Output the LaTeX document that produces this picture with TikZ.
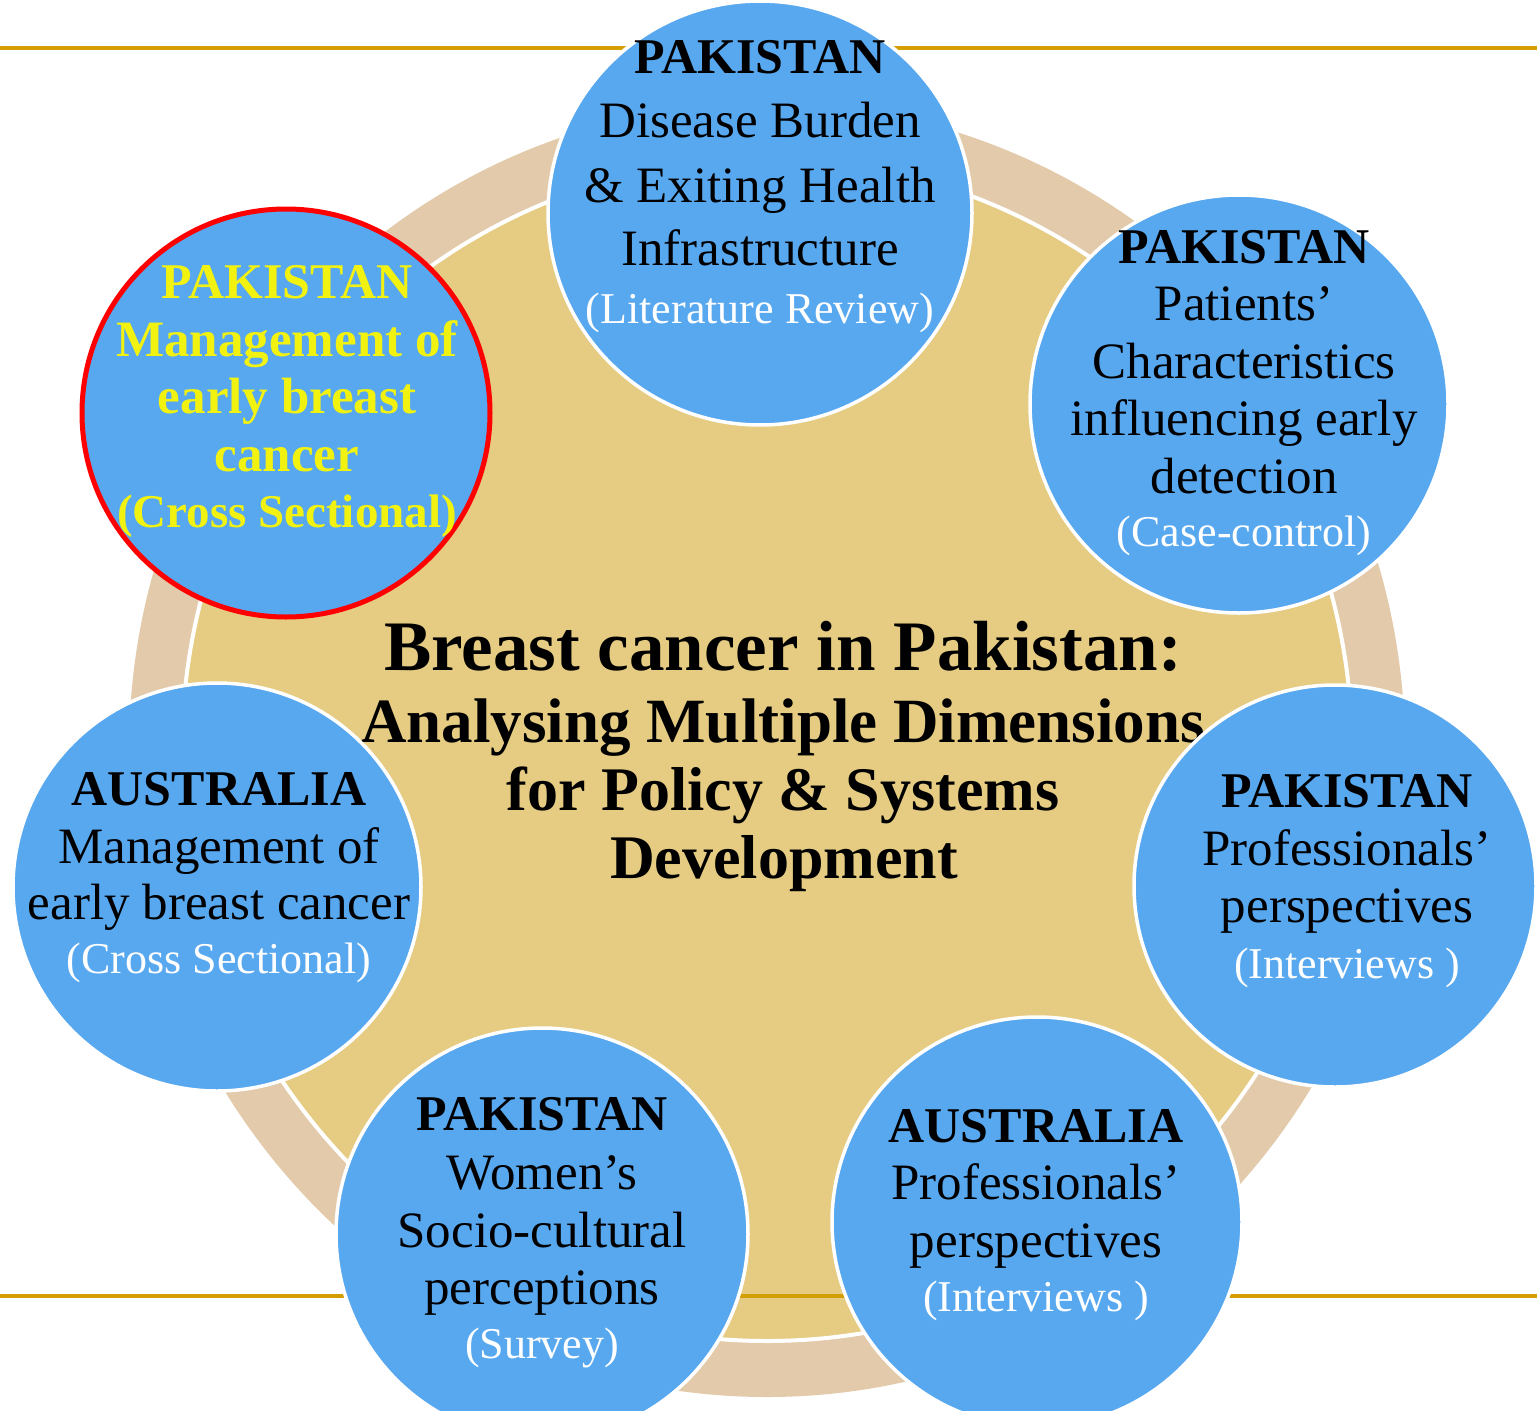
\documentclass[tikz,border=0pt]{standalone}
\usepackage{fontspec}
\setmainfont{Liberation Serif}

\definecolor{ringtan}{RGB}{226,202,171}
\definecolor{diskgold}{RGB}{229,204,130}
\definecolor{bubbleblue}{RGB}{88,168,240}
\definecolor{rulegold}{RGB}{210,158,0}
\definecolor{hiyellow}{RGB}{242,242,16}

\tikzset{
  bubble/.style={circle, fill=bubbleblue, draw=white, line width=3.5pt, inner sep=0pt},
  focus/.style={bubble, draw=red, line width=5pt},
  txtline/.style={anchor=base, inner sep=0pt, outer sep=0pt},
  head/.style={txtline, font=\fontsize{50}{60}\selectfont\bfseries},
  body/.style={txtline, font=\fontsize{51}{60}\selectfont},
  note/.style={txtline, text=white, font=\fontsize{44}{52}\selectfont},
  hihead/.style={txtline, text=hiyellow, font=\fontsize{50}{60}\selectfont\bfseries},
  hibody/.style={txtline, text=hiyellow, font=\fontsize{51}{60}\selectfont\bfseries},
  hinote/.style={txtline, text=hiyellow, font=\fontsize{47}{56}\selectfont\bfseries},
  titleA/.style={txtline, font=\fontsize{71}{80}\selectfont\bfseries},
  titleB/.style={txtline, font=\fontsize{62}{70}\selectfont\bfseries},
  rule/.style={draw=rulegold, line width=4pt}
}

\begin{document}
\begin{tikzpicture}[x=1pt, y=-1pt]
  \useasboundingbox (0,0) rectangle (1537,1411);
  \clip (0,0) rectangle (1537,1411);

  % outer ring and central disk
  \fill[ringtan] (767,750) ellipse [x radius=638pt, y radius=647pt];
  \filldraw[fill=diskgold, draw=white, line width=4pt] (767,750) ellipse [x radius=585pt, y radius=591pt];

  % horizontal rules
  \coordinate (rt1) at (0,47.5);   \coordinate (rt2) at (1537,47.5);
  \coordinate (rb1) at (0,1296);   \coordinate (rb2) at (1537,1296);
  \draw[rule] (rt1) -- (rt2);
  \draw[rule] (rb1) -- (rb2);

  % central title
  \node[titleA] (t1) at (783,670) {Breast cancer in Pakistan:};
  \node[titleB, font=\fontsize{63}{70}\selectfont\bfseries] (t2) at (783,742) {Analysing Multiple Dimensions};
  \node[titleB] (t3) at (783,810) {for Policy \& Systems};
  \node[titleB] (t4) at (784,878) {Development};

  % surrounding bubbles
  \node[bubble, minimum size=424pt] (c1) at (760,213) {};
  \node[bubble, minimum size=418pt] (c2) at (1239,404) {};
  \node[bubble, minimum size=402pt] (c3) at (1335,886) {};
  \node[bubble, minimum size=410pt] (c4) at (1037,1222) {};
  \node[bubble, minimum size=412pt] (c5) at (542,1234) {};
  \node[bubble, minimum size=408pt] (c6) at (217,887) {};
  \node[focus, minimum size=408pt] (c7) at (286,413) {};

  % top bubble
  \node[head] (c1h) at (760,73)  {PAKISTAN};
  \node[body] (c1a) at (760,137) {Disease Burden};
  \node[body] (c1b) at (760,202) {\& Exiting Health};
  \node[body] (c1c) at (760,265) {Infrastructure};
  \node[note] (c1d) at (760,323) {(Literature Review)};

  % upper right bubble
  \node[head] (c2h) at (1244,263) {PAKISTAN};
  \node[body] (c2a) at (1244,320) {Patients’};
  \node[body] (c2b) at (1244,378) {Characteristics};
  \node[body] (c2c) at (1244,435) {influencing early};
  \node[body] (c2d) at (1244,493) {detection};
  \node[note] (c2e) at (1244,546) {(Case-control)};

  % right bubble
  \node[head] (c3h) at (1347,807) {PAKISTAN};
  \node[body] (c3a) at (1347,865) {Professionals’};
  \node[body] (c3b) at (1347,922) {perspectives};
  \node[note] (c3c) at (1347,978) {(Interviews )};

  % lower right bubble
  \node[head] (c4h) at (1036,1142) {AUSTRALIA};
  \node[body] (c4a) at (1036,1199) {Professionals’};
  \node[body] (c4b) at (1036,1257) {perspectives};
  \node[note] (c4c) at (1036,1311) {(Interviews )};

  % lower left bubble
  \node[head] (c5h) at (542,1130) {PAKISTAN};
  \node[body] (c5a) at (542,1189) {Women’s};
  \node[body] (c5b) at (542,1247) {Socio-cultural};
  \node[body] (c5c) at (542,1304) {perceptions};
  \node[note] (c5d) at (542,1358) {(Survey)};

  % left bubble
  \node[head] (c6h) at (219,805) {AUSTRALIA};
  \node[body] (c6a) at (219,863) {Management of};
  \node[body] (c6b) at (219,919) {early breast cancer};
  \node[note] (c6c) at (219,973) {(Cross Sectional)};

  % highlighted bubble
  \node[hihead] (c7h) at (287,298) {PAKISTAN};
  \node[hibody] (c7a) at (287,356) {Management of};
  \node[hibody] (c7b) at (287,413) {early breast};
  \node[hibody] (c7c) at (287,471) {cancer};
  \node[hinote] (c7d) at (287,527) {(Cross Sectional)};
\end{tikzpicture}
\end{document}
